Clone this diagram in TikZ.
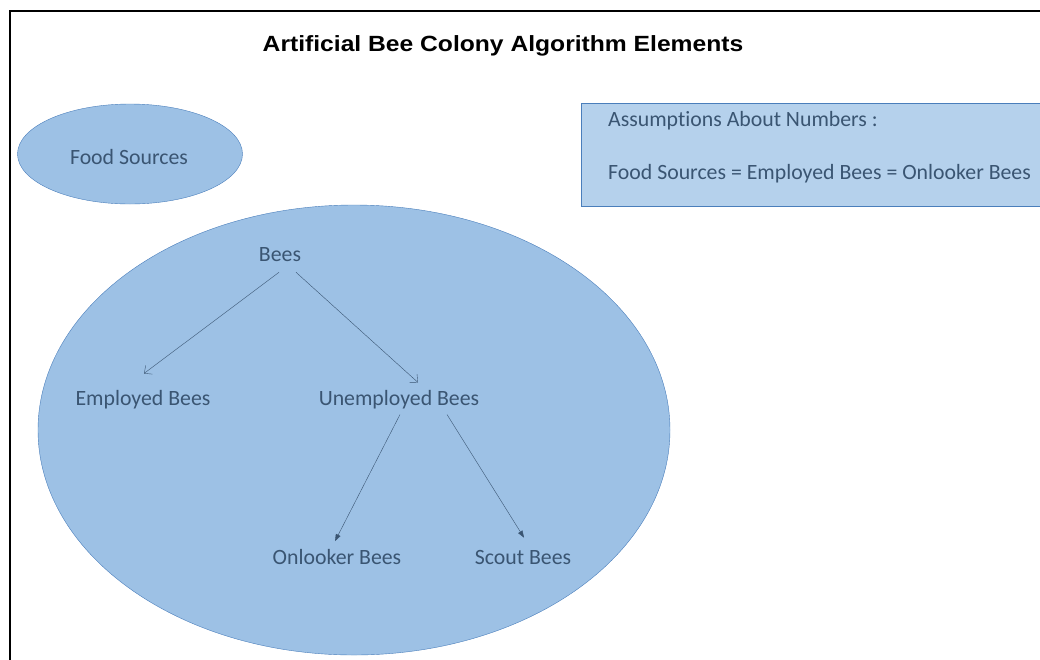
\documentclass[tikz,border=0pt]{standalone}
\usepackage{fontspec}
\usepackage{graphicx}
\setmainfont{Carlito}[Ligatures=NoCommon]
\newfontfamily\titlefont{Liberation Sans}
\usetikzlibrary{shapes.geometric,arrows.meta}
\definecolor{beefill}{HTML}{9DC1E5}
\definecolor{boxfill}{HTML}{B5D1EC}
\definecolor{beeline}{HTML}{4A7EBB}
\definecolor{beetext}{HTML}{3A5572}

\begin{document}
\begin{tikzpicture}[x=1pt,y=-1pt,
    lbl/.style={text=beetext,font=\fontsize{21.8}{26}\selectfont,inner sep=0pt},
    openarr/.style={draw=beetext,-{Straight Barb[length=6pt,width=11pt]}},
    fillarr/.style={draw=beetext,-{Triangle[length=7pt,width=5pt]}}]
    \clip (0,0) rectangle (1040,659);

    \draw[line width=2pt] (10,665) -- (10,11) -- (1045,11);

    \node (title) at (503,46) {\scalebox{1.12}[1]{\titlefont\bfseries\fontsize{22}{26}\selectfont Artificial Bee Colony Algorithm Elements}};

    \node[ellipse,draw=beeline,fill=beefill,minimum width=225pt,minimum height=100pt,inner sep=0pt] (food) at (130,154) {};
    \node[lbl] (foodtxt) at (129,157) {Food Sources};

    \node[draw=beeline,fill=boxfill,anchor=north west,minimum width=470pt,minimum height=103pt,inner sep=0pt] (assume) at (581,103) {};
    \node[lbl,anchor=west] (assume1) at (608,121) {Assumptions About Numbers :};
    \node[lbl,anchor=west] (assume2) at (608,174) {Food Sources = Employed Bees = Onlooker Bees};

    \node[ellipse,draw=beeline,fill=beefill,minimum width=632pt,minimum height=450pt,inner sep=0pt] (colony) at (354,430) {};

    \node[lbl] (bees) at (280,255) {Bees};
    \node[lbl] (employed) at (143,400) {Employed Bees};
    \node[lbl] (unemployed) at (399,400) {Unemployed Bees};
    \node[lbl] (onlooker) at (337,557) {Onlooker Bees};
    \node[lbl] (scout) at (523,557) {Scout Bees};

    \draw[openarr] ([xshift=-1pt,yshift=-10pt]bees.south) -- ([xshift=1pt,yshift=17pt]employed.north);
    \draw[openarr] ([xshift=16pt,yshift=-10pt]bees.south) -- ([xshift=19pt,yshift=8pt]unemployed.north);
    \draw[fillarr] ([xshift=1pt,yshift=-5pt]unemployed.south) -- ([xshift=-2pt,yshift=8pt]onlooker.north);
    \draw[fillarr] ([xshift=48pt,yshift=-5pt]unemployed.south) -- ([xshift=1pt,yshift=12pt]scout.north);
\end{tikzpicture}
\end{document}
